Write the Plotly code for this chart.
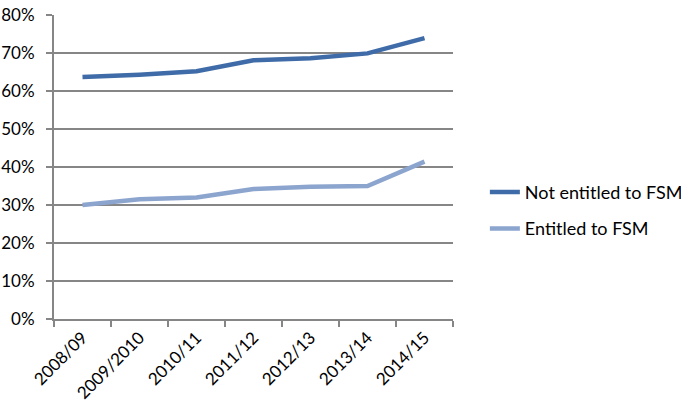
import plotly.graph_objects as go

years = ["2008/09", "2009/2010", "2010/11", "2011/12", "2012/13", "2013/14", "2014/15"]
not_entitled = [0.637, 0.643, 0.652, 0.681, 0.686, 0.699, 0.739]
entitled = [0.300, 0.315, 0.320, 0.342, 0.348, 0.350, 0.414]

FONT = "Lato"
GRID = "#868686"
FS = 17

fig = go.Figure()
fig.add_trace(go.Scatter(x=years, y=not_entitled, mode="lines", name="Not entitled to FSM",
                         legendgroup="a",
                         line=dict(color="#3F6CA8", width=4.5)))
fig.add_trace(go.Scatter(x=years, y=entitled, mode="lines", name="Entitled to FSM",
                         legendgroup="b",
                         line=dict(color="#8CA5CE", width=4.5)))

fig.update_layout(
    width=681, height=406,
    margin=dict(l=54, r=228, t=15, b=87, autoexpand=False),
    paper_bgcolor="white", plot_bgcolor="white",
    font=dict(family=FONT, size=FS, color="black"),
    showlegend=True,
    legend=dict(xref="container", yref="container", x=0.712, y=0.482,
                xanchor="left", yanchor="middle",
                font=dict(family=FONT, size=18, color="black"),
                bgcolor="rgba(0,0,0,0)", itemwidth=30, tracegroupgap=10),
    xaxis=dict(type="category", tickangle=-45, showgrid=False, automargin=False,
               showline=True, linecolor=GRID, linewidth=2,
               ticks="outside", tickson="boundaries", ticklen=6, tickcolor=GRID, tickwidth=2,
               tickfont=dict(family=FONT, size=FS), range=[-0.5, 6.5]),
    yaxis=dict(range=[0, 0.8], dtick=0.1, tickformat=".0%", automargin=False,
               showgrid=True, gridcolor=GRID, gridwidth=2,
               showline=True, linecolor=GRID, linewidth=2,
               ticks="outside", ticklen=6, tickcolor=GRID, tickwidth=2,
               ticklabelstandoff=8,
               zeroline=False, tickfont=dict(family=FONT, size=FS)),
)
fig.write_html("out.html")
